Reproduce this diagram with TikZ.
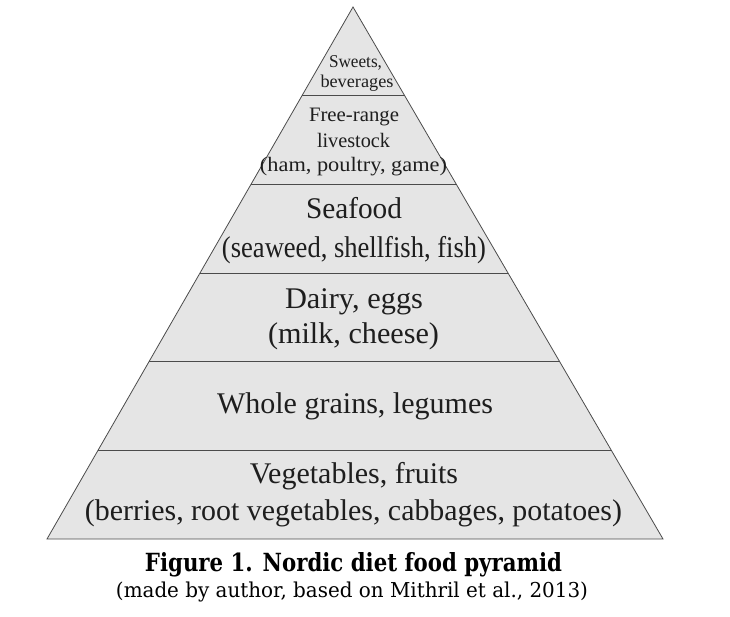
\documentclass[tikz,border=0pt]{standalone}
\usepackage{fontspec}
\usepackage{graphicx}
\setmainfont{Liberation Serif}
\newfontfamily\capfont{DejaVu Serif}
\usetikzlibrary{calc}
\definecolor{bandfill}{RGB}{229,229,229}
\definecolor{edgecol}{RGB}{75,75,75}
\definecolor{inkcol}{RGB}{30,30,30}
\newcommand{\fitw}[2]{\resizebox{#1}{\height}{#2}}
\begin{document}
\begin{tikzpicture}[x=1pt,y=1pt,
  band/.style={draw=edgecol,line width=0.9pt},
  lbl/.style={anchor=base,inner sep=0pt,text=inkcol},
  small/.style={lbl,font=\fontsize{18}{21}\selectfont},
  mid/.style={lbl,font=\fontsize{20.5}{25}\selectfont},
  big/.style={lbl,font=\fontsize{30}{36}\selectfont},
  captxt/.style={anchor=base,inner sep=0pt,text=black}]
\useasboundingbox (0,0) rectangle (730,616);
\coordinate (apex) at (353,609);
\coordinate (bl) at (47,77);
\coordinate (br) at (663,77);
\fill[bandfill] (apex) -- (bl) -- (br) -- cycle;
\draw[edgecol,line width=0.8pt,line join=miter] (apex) -- (bl) -- (br) -- cycle;
\foreach \k in {1,...,5}{
  \draw[band] ($(apex)!\k/6!(bl)$) -- ($(apex)!\k/6!(br)$);
}
% top band
\node[small] (sw1) at (355.5,548) {\fitw{53pt}{Sweets,}};
\node[small] (sw2) at (357,528) {\fitw{73pt}{beverages}};
% livestock
\node[mid] (lv1) at (354,494) {\fitw{90pt}{Free-range}};
\node[mid] (lv2) at (353.5,468) {\fitw{73pt}{livestock}};
\node[mid] (lv3) at (353.5,444) {\fitw{187pt}{(ham, poultry, game)}};
% seafood
\node[big] (sf1) at (354,397) {\fitw{96pt}{Seafood}};
\node[big] (sf2) at (354,358) {\fitw{264pt}{(seaweed, shellfish, fish)}};
% dairy
\node[big] (da1) at (354,307) {\fitw{138pt}{Dairy, eggs}};
\node[big] (da2) at (353.5,272) {\fitw{171pt}{(milk, cheese)}};
% grains
\node[big] (gr1) at (355,203) {\fitw{276pt}{Whole grains, legumes}};
% vegetables
\node[big] (vg1) at (354,133) {Vegetables, fruits};
\node[big] (vg2) at (353.5,96) {\fitw{537pt}{(berries, root vegetables, cabbages, potatoes)}};
% caption
\node[captxt] (fig) at (353.5,45) {\fitw{417pt}{\capfont\fontsize{25}{30}\selectfont\bfseries Figure 1. Nordic diet food pyramid}};
\node[captxt] (src) at (352,19) {\fitw{472pt}{\capfont\fontsize{20.5}{25}\selectfont (made by author, based on Mithril et al., 2013)}};
\end{tikzpicture}
\end{document}
